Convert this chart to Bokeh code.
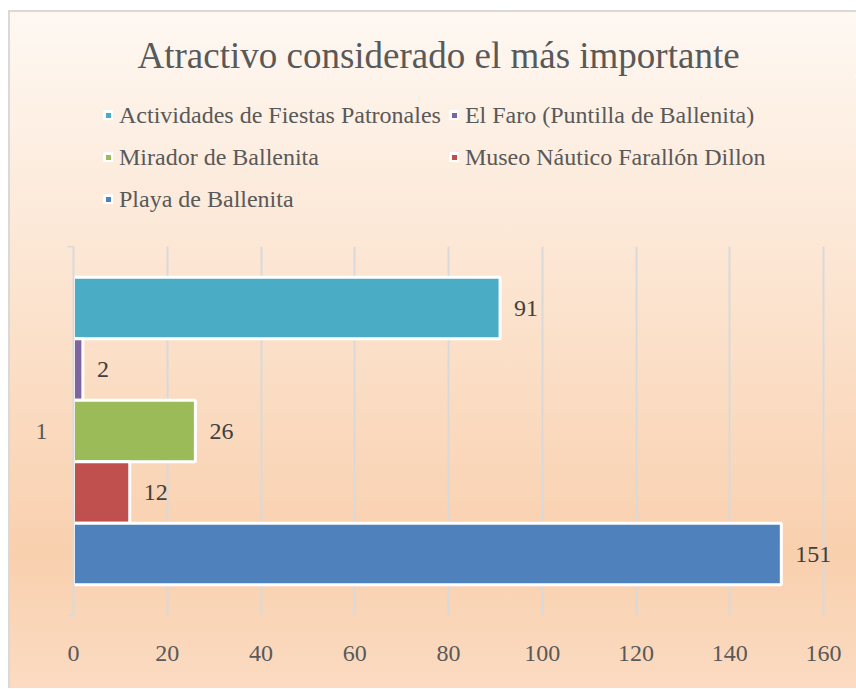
from bokeh.plotting import figure
from bokeh.layouts import column
from bokeh.models import (Range1d, FixedTicker, Legend, LegendItem,
                          ColumnDataSource, LabelSet)
from bokeh.embed import file_html
from bokeh.resources import INLINE

# ---- data ----
title_text = "Atractivo considerado el más importante"
category = "1"
series = ["Actividades de Fiestas Patronales",
          "El Faro (Puntilla de Ballenita)",
          "Mirador de Ballenita",
          "Museo Náutico Farallón Dillon",
          "Playa de Ballenita"]
values = [91, 2, 26, 12, 151]
colors = ["#4BACC6", "#8064A2", "#9BBB59", "#C0504D", "#4F81BD"]
x_ticks = [0, 20, 40, 60, 80, 100, 120, 140, 160]

FONT = "Liberation Serif"
TXT = "#595959"
W = 846
frame_left = 63

n = len(series)
slot = 1.0 / (n + 1)
ypos = [1 - (i + 1) * slot for i in range(n)]
sources = [ColumnDataSource(dict(y=[ypos[i]], right=[values[i]])) for i in range(n)]

# ---------- top part: title + legend ----------
# (its ranges lie outside the data, so the legend proxies stay hidden)
top = figure(width=W, height=234, x_range=Range1d(-3, -2), y_range=Range1d(-2, -1),
             x_axis_type=None, y_axis_type=None,
             output_backend="svg", toolbar_location=None,
             min_border_left=0, min_border_right=0, min_border_bottom=0,
             min_border_top=63,
             border_fill_color=None, background_fill_color=None,
             outline_line_color=None)
top.title.text = title_text
top.title.align = "left"
top.title.offset = 64
top.title.standoff = 0
top.title.text_font = FONT
top.title.text_font_size = "37px"
top.title.text_font_style = "normal"
top.title.text_color = TXT

proxies = []
for i in range(n):
    r = top.hbar(y="y", left=0, right="right", height=slot, source=sources[i],
                 fill_color=colors[i], line_color="white", line_width=3)
    proxies.append(r)

legend = Legend(items=[LegendItem(label=series[i], renderers=[proxies[i]]) for i in range(n)],
                orientation="horizontal", ncols=2, location=(30, 30),
                glyph_width=10, glyph_height=10, label_standoff=6,
                spacing=8, label_height=34, padding=0, margin=0,
                background_fill_alpha=0, border_line_color=None,
                label_text_font=FONT, label_text_font_size="24px",
                label_text_color=TXT)
top.add_layout(legend)

# ---------- bottom part: bar chart ----------
x_end = 160 * (W - frame_left) / 750.0
p = figure(width=W, height=442,
           x_range=Range1d(0, x_end), y_range=Range1d(0, 1),
           output_backend="svg", toolbar_location=None,
           min_border_left=frame_left, min_border_right=0,
           min_border_top=0, min_border_bottom=73,
           border_fill_color=None, background_fill_color=None,
           outline_line_color=None)

for i in range(n):
    p.hbar(y="y", left=0, right="right", height=slot, source=sources[i],
           fill_color=colors[i], line_color="white", line_width=3)

lab_src = ColumnDataSource(dict(x=values, y=ypos, text=[str(v) for v in values]))
p.add_layout(LabelSet(x="x", y="y", text="text", source=lab_src,
                      x_offset=14, text_baseline="middle",
                      text_font=FONT, text_font_size="24px",
                      text_color="#404040"))

p.xaxis.ticker = FixedTicker(ticks=x_ticks)
p.xaxis.axis_line_color = None
p.xaxis.major_tick_line_color = None
p.xaxis.minor_tick_line_color = None
p.xaxis.major_label_text_font = FONT
p.xaxis.major_label_text_font_size = "24px"
p.xaxis.major_label_text_color = TXT
p.xaxis.major_label_standoff = 24

p.yaxis.ticker = FixedTicker(ticks=[0.5], minor_ticks=[0, 1])
p.yaxis.major_label_overrides = {0.5: category}
p.yaxis.axis_line_color = "#D9D9D9"
p.yaxis.axis_line_width = 2
p.yaxis.major_tick_line_color = None
p.yaxis.major_tick_out = 0
p.yaxis.major_tick_in = 0
p.yaxis.minor_tick_line_color = "#D9D9D9"
p.yaxis.minor_tick_line_width = 2
p.yaxis.minor_tick_out = 6
p.yaxis.minor_tick_in = 0
p.yaxis.major_label_text_font = FONT
p.yaxis.major_label_text_font_size = "24px"
p.yaxis.major_label_text_color = TXT
p.yaxis.major_label_standoff = 20

p.xgrid.grid_line_color = "#D9D9D9"
p.xgrid.grid_line_width = 2
p.xgrid.ticker = FixedTicker(ticks=x_ticks)
p.ygrid.grid_line_color = None

layout = column(top, p, spacing=0)
layout.styles = {
    "background": "linear-gradient(to bottom, #FEF8F2 0%, #FCE7D5 35%, #F9D0AE 80%, #FBDBC2 100%)",
    "border-left": "2px solid #D9D9D9",
    "border-top": "2px solid #D9D9D9",
    "margin-left": "8px",
    "margin-top": "10px",
}

open("out.html", "w").write(file_html(layout, INLINE))
